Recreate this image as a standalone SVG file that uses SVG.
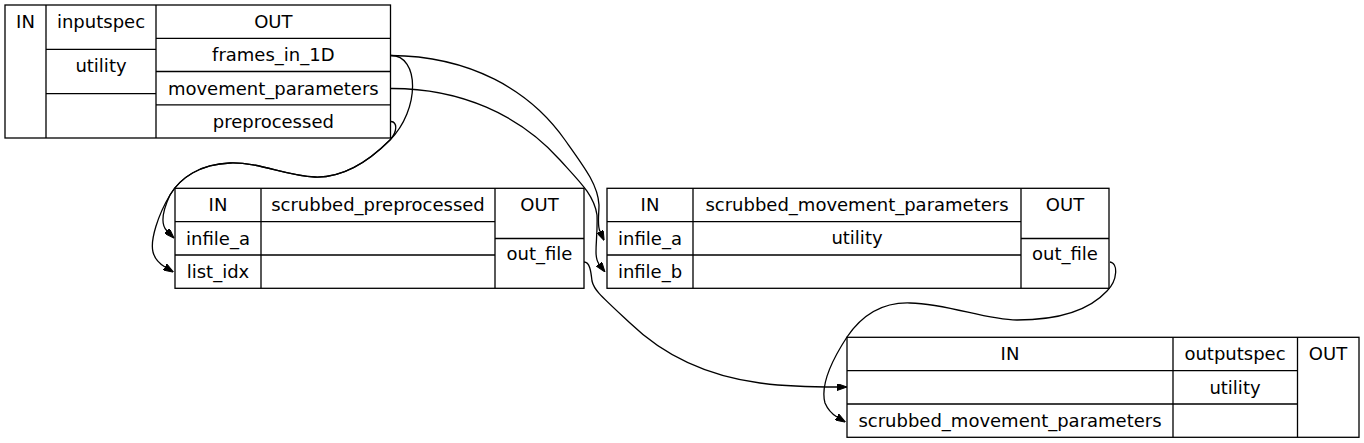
<svg xmlns="http://www.w3.org/2000/svg" width="1364" height="443" viewBox="0 0 1364 443">
<style>
.box{fill:none;stroke:#000;stroke-width:1.3}
.ln{stroke:#000;stroke-width:1.3;fill:none}
text{font-family:"DejaVu Sans","Liberation Sans",sans-serif;font-size:18px;fill:#000;text-anchor:middle}
.edge{fill:none;stroke:#000;stroke-width:1.3;marker-end:url(#arr)}
</style>
<defs>
<marker id="arr" viewBox="0 0 10 7" refX="0" refY="3.5" markerWidth="10" markerHeight="7" markerUnits="userSpaceOnUse" orient="auto">
<path d="M0,0 L10,3.5 L0,7 z" fill="#000" stroke="#000" stroke-width="1"/>
</marker>
</defs>
<rect x="0" y="0" width="1364" height="443" fill="#fff"/>

<g id="inputspec">
<rect class="box" x="5" y="5" width="385.5" height="133"/>
<path class="ln" d="M46,5 V138 M156,5 V138 M46,49.3 H156 M46,93.7 H156 M156,38.3 H390.5 M156,71.5 H390.5 M156,104.8 H390.5"/>
<text x="25.5" y="27.5">IN</text>
<text x="101" y="27.5">inputspec</text>
<text x="101" y="72">utility</text>
<text x="273.3" y="27.5">OUT</text>
<text x="273.3" y="61">frames_in_1D</text>
<text x="273.3" y="94.5">movement_parameters</text>
<text x="273.3" y="127.7">preprocessed</text>
</g>

<g id="scrubbed_preprocessed">
<rect class="box" x="175" y="188.3" width="409" height="100"/>
<path class="ln" d="M261,188.3 V288.3 M495,188.3 V288.3 M175,221.7 H495 M175,255 H495 M495,238.5 H584"/>
<text x="218" y="211">IN</text>
<text x="218" y="244.5">infile_a</text>
<text x="218" y="277.5">list_idx</text>
<text x="378" y="211">scrubbed_preprocessed</text>
<text x="539.5" y="211">OUT</text>
<text x="539.5" y="260">out_file</text>
</g>

<g id="scrubbed_movement_parameters">
<rect class="box" x="607" y="188.3" width="502" height="100"/>
<path class="ln" d="M693,188.3 V288.3 M1021,188.3 V288.3 M607,221.7 H1021 M607,255 H1021 M1021,238.5 H1109"/>
<text x="650" y="211">IN</text>
<text x="650" y="244.5">infile_a</text>
<text x="650" y="277.5">infile_b</text>
<text x="857" y="211">scrubbed_movement_parameters</text>
<text x="857" y="244">utility</text>
<text x="1065" y="211">OUT</text>
<text x="1065" y="260">out_file</text>
</g>

<g id="outputspec">
<rect class="box" x="847" y="337.3" width="512" height="100"/>
<path class="ln" d="M1173,337.3 V437.3 M1297.5,337.3 V437.3 M847,370.7 H1297.5 M847,404 H1297.5"/>
<text x="1010" y="360.3">IN</text>
<text x="1010" y="427">scrubbed_movement_parameters</text>
<text x="1235" y="360.3">outputspec</text>
<text x="1235" y="393.6">utility</text>
<text x="1328" y="360.3">OUT</text>
</g>

<g id="connectors">
<path class="edge" d="M390.5,55.5 C420,55 420,110 390,140 C370,160 345,178 315,177 C285,176 260,162 230,163 C200,164 180,178 170,195 C158,215 150,240 153,252 C155,260 160,264 165,267"/>
<path class="edge" d="M391,121.5 C397,122 398,131 390,140 C370,160 345,178 315,177 C285,176 260,162 230,163 C200,164 180,178 170,195 C163,210 160,224 167,231"/>
<path class="edge" d="M390.5,55.5 C470,56 530,90 565,140 C585,168 598,185 599,205 C599,215 597,225 600,231.5"/>
<path class="edge" d="M390.5,88.5 C460,88 520,115 560,160 C580,182 594,195 597,215 C598,240 593,256 599,264"/>
<path class="edge" d="M584,262 C590,262 591,272 592,281 C594,290 600,295 630,323 C660,352 700,375 760,383 C790,387 815,387 837,387"/>
<path class="edge" d="M1110,262 C1118,263 1118,280 1107,291 C1095,304 1070,320 1017,320 C985,320 950,304 910,303 C880,302 860,318 847,337 C832,360 820,385 825,403 C828,410 832,414 837,417"/>
</g>
</svg>
